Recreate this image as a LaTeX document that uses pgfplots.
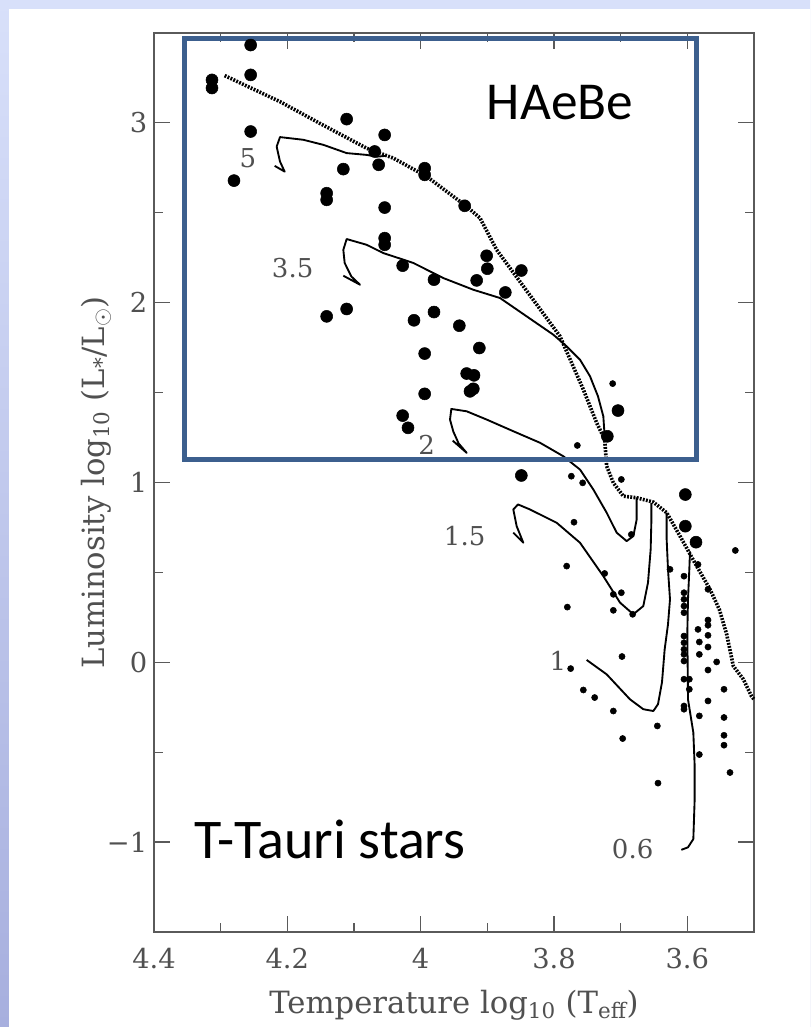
\documentclass[border=0pt]{standalone}
\usepackage{pgfplots}
\pgfplotsset{compat=1.18}
\usepackage{fontspec}
\setmainfont{DejaVu Serif}
\newfontfamily\calibri{Carlito}
\definecolor{bgtop}{HTML}{D8E0FA}
\definecolor{bgbot}{HTML}{A7AFDE}
\definecolor{boxblue}{HTML}{3C5F8E}
\definecolor{axgray}{HTML}{5A5A5A}
\definecolor{txtgray}{HTML}{505050}
\begin{document}
\begin{tikzpicture}
\useasboundingbox (0,0) rectangle (607.5pt,770.25pt);
\shade[top color=bgtop, bottom color=bgbot] (0,0) rectangle (607.5pt,770.25pt);
\fill[white] (6.75pt,0) rectangle (607.5pt,763.5pt);
\begin{axis}[
  at={(115.5pt,71.25pt)}, anchor=south west,
  scale only axis, width=450pt, height=674.25pt,
  x dir=reverse, xmin=3.5, xmax=4.4, ymin=-1.5, ymax=3.5,
  xtick={3.6,3.8,4,4.2,4.4}, xticklabels={3.6,3.8,4,4.2,4.4},
  ytick={-1,0,1,2,3}, yticklabels={−1,0,1,2,3},
  minor xtick={3.5,3.7,3.9,4.1,4.3},
  minor ytick={-0.5,0.5,1.5,2.5},
  tick align=inside, tick pos=both,
  major tick length=12pt, minor tick length=7pt,
  axis line style={axgray, line width=1pt},
  tick style={axgray, line width=0.9pt},
  ticklabel style={font=\fontsize{20.5}{24}\selectfont, text=txtgray},
  xticklabel shift=8.5pt, yticklabel shift=1.5pt,
  xlabel={Temperature log\textsubscript{10} (T\textsubscript{eff})},
  ylabel={Luminosity log\textsubscript{10} (L\textsubscript{*}/L$_\odot$)},
  label style={font=\fontsize{23}{27}\selectfont, text=txtgray},
  xlabel style={at={(axis description cs:0.5,-0.0812)}, anchor=center},
  ylabel style={at={(axis description cs:-0.0967,0.5)}, anchor=center},
  clip=false,
]
% birthline (dotted)
\addplot[black, line width=2.7pt, dash pattern=on 1.4pt off 1.0pt] coordinates {
(4.294,3.263)(4.211,3.118)(4.147,2.989)(4.081,2.859)(4.041,2.804)(3.991,2.702)
(3.931,2.535)(3.911,2.471)(3.886,2.294)(3.791,1.813)(3.756,1.517)(3.736,1.332)
(3.724,1.239)(3.721,1.091)(3.711,0.998)(3.696,0.924)(3.676,0.915)(3.651,0.891)
(3.631,0.832)(3.611,0.702)(3.586,0.535)(3.566,0.406)(3.552,0.294)(3.541,0.156)
(3.531,-0.021)(3.516,-0.094)(3.504,-0.187)(3.5,-0.206)};
% 5 Msun track
\addplot[black, line width=1.4pt, line join=round] coordinates {
(4.051,2.817)(4.066,2.812)(4.081,2.822)(4.111,2.832)(4.146,2.878)(4.176,2.906)(4.211,2.921)
(4.216,2.868)(4.211,2.785)(4.204,2.729)(4.219,2.761)};
% 3.5 Msun track
\addplot[black, line width=1.4pt, line join=round] coordinates {
(3.724,1.256)(3.726,1.368)(3.734,1.479)(3.746,1.591)(3.761,1.683)(3.781,1.757)
(3.801,1.822)(3.841,1.924)(3.881,2.026)(3.921,2.072)(3.966,2.137)(4.011,2.221)
(4.056,2.276)(4.081,2.322)(4.111,2.354)(4.116,2.294)(4.114,2.221)(4.104,2.146)
(4.091,2.100)(4.116,2.150)};
% 2 Msun track
\addplot[black, line width=1.4pt, line join=round] coordinates {
(3.676,0.917)(3.676,0.794)(3.681,0.702)(3.691,0.674)(3.706,0.721)(3.721,0.832)
(3.741,0.961)(3.761,1.072)(3.786,1.146)(3.821,1.221)(3.861,1.285)(3.901,1.350)
(3.931,1.396)(3.954,1.409)(3.956,1.350)(3.951,1.283)(3.943,1.217)(3.931,1.165)
(3.952,1.233)};
% 1.5 Msun track
\addplot[black, line width=1.4pt, line join=round] coordinates {
(3.654,0.887)(3.654,0.776)(3.655,0.628)(3.659,0.443)(3.666,0.313)(3.681,0.267)
(3.701,0.332)(3.726,0.479)(3.761,0.665)(3.796,0.776)(3.836,0.850)(3.854,0.878)
(3.861,0.850)(3.856,0.757)(3.846,0.665)(3.861,0.721)};
% 1 Msun track
\addplot[black, line width=1.4pt, line join=round] coordinates {
(3.631,0.832)(3.631,0.683)(3.629,0.517)(3.626,0.350)(3.629,0.211)(3.634,0.072)
(3.638,-0.111)(3.644,-0.233)(3.651,-0.271)(3.666,-0.261)(3.686,-0.206)
(3.721,-0.067)(3.751,0.013)};
% 0.6 Msun track
\addplot[black, line width=1.4pt, line join=round] coordinates {
(3.596,0.617)(3.597,0.517)(3.599,0.350)(3.600,0.167)(3.599,-0.206)(3.591,-0.391)
(3.589,-0.576)(3.589,-0.761)(3.591,-0.983)(3.599,-1.029)(3.609,-1.043)};
% HAeBe stars (large dots)
\addplot[only marks, mark=*, mark size=4.5pt, black] coordinates {
(4.255,3.433)(4.255,3.267)(4.313,3.239)(4.313,3.194)(4.111,3.021)(4.054,2.933)
(4.255,2.952)(4.069,2.841)(4.063,2.767)(4.116,2.743)(4.280,2.679)(3.994,2.748)
(3.994,2.711)(4.141,2.609)(4.141,2.572)(4.054,2.529)(3.934,2.539)(4.054,2.359)
(4.054,2.322)(4.027,2.206)(3.980,2.128)(3.916,2.124)(3.901,2.261)(3.900,2.189)
(3.849,2.179)(3.873,2.057)(4.141,1.924)(4.111,1.965)(4.010,1.902)(3.980,1.948)
(3.942,1.872)(3.912,1.748)(3.994,1.717)(3.931,1.606)(3.920,1.596)(3.994,1.493)
(3.926,1.507)(3.921,1.521)(4.027,1.372)(4.019,1.304)(3.704,1.400)(3.720,1.257)
(3.849,1.039)(3.603,0.933)(3.603,0.757)(3.587,0.668)};
% T Tauri stars (small dots)
\addplot[only marks, mark=*, mark size=2.3pt, black] coordinates {
(3.712,1.550)(3.765,1.206)(3.774,1.035)(3.757,0.998)(3.699,1.017)(3.528,0.622)
(3.770,0.779)(3.684,0.711)(3.781,0.535)(3.724,0.494)(3.711,0.378)(3.699,0.387)
(3.780,0.307)(3.711,0.289)(3.682,0.267)(3.626,0.517)(3.605,0.479)(3.584,0.544)
(3.605,0.387)(3.605,0.350)(3.605,0.313)(3.605,0.276)(3.569,0.406)(3.569,0.235)
(3.569,0.206)(3.584,0.183)(3.569,0.150)(3.605,0.146)(3.605,0.109)(3.605,0.072)
(3.605,0.044)(3.605,0.007)(3.582,0.113)(3.569,0.085)(3.582,0.044)(3.556,0.002)
(3.569,-0.043)(3.698,0.032)(3.775,-0.035)(3.605,-0.094)(3.597,-0.094)(3.597,-0.150)
(3.605,-0.243)(3.605,-0.261)(3.545,-0.150)(3.569,-0.215)(3.756,-0.154)(3.739,-0.196)
(3.711,-0.271)(3.645,-0.354)(3.697,-0.424)(3.582,-0.298)(3.545,-0.307)(3.545,-0.406)
(3.545,-0.461)(3.582,-0.513)(3.536,-0.613)(3.644,-0.672)};
% track mass labels
\begin{scope}[every node/.style={font=\fontsize{19.5}{22}\selectfont, text=txtgray}]
\node at (axis cs:4.259,2.806) {5};
\node at (axis cs:4.192,2.194) {3.5};
\node at (axis cs:3.991,1.211) {2};
\node at (axis cs:3.934,0.700) {1.5};
\node at (axis cs:3.794,0.006) {1};
\node at (axis cs:3.682,-1.039) {0.6};
\end{scope}
% annotation box and region labels
\draw[boxblue, line width=3.75pt] (axis cs:4.354,1.128) rectangle (axis cs:3.587,3.472);
\node[font=\calibri\fontsize{40}{48}\selectfont] at (axis cs:3.791,3.111) {HAeBe};
\node[font=\calibri\fontsize{42}{50}\selectfont] at (axis cs:4.136,-0.983) {T-Tauri stars};
\end{axis}
\end{tikzpicture}
\end{document}
